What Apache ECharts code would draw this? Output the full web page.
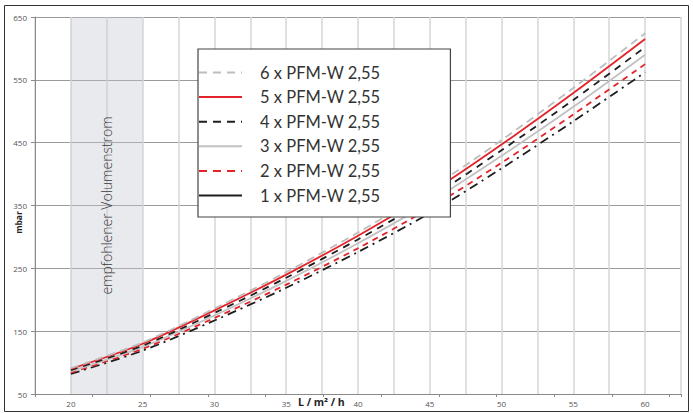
<!DOCTYPE html>
<html>
<head>
<meta charset="utf-8">
<script src="https://cdn.jsdelivr.net/npm/echarts@6/dist/echarts.min.js"></script>
<style>html,body{margin:0;padding:0;background:#fff}#c{width:693px;height:413px}</style>
</head>
<body>
<div id="c"></div>
<script>
const xValues = [20, 25, 30, 35, 40, 45, 50, 55, 60];
const seriesNames = ['6 x PFM-W 2,55', '5 x PFM-W 2,55', '4 x PFM-W 2,55', '3 x PFM-W 2,55', '2 x PFM-W 2,55', '1 x PFM-W 2,55'];
const pfm6 = [91, 132, 186, 244, 307, 376, 454, 537, 624];
const pfm5 = [90, 130, 183, 240, 302, 370, 447, 529, 615];
const pfm4 = [88, 127, 179, 235, 296, 362, 438, 518, 602];
const pfm3 = [86, 125, 175, 230, 290, 355, 429, 507, 590];
const pfm2 = [84, 122, 171, 224, 282, 346, 418, 495, 575];
const pfm1 = [82, 119, 167, 219, 276, 338, 409, 484, 562];
const yTicks = [50, 150, 250, 350, 450, 550, 650];
const xTickLabels = [20, 25, 30, 35, 40, 45, 50, 55, 60];
const bandRange = [20, 25];
const bandText = 'empfohlener Volumenstrom';
const yName = 'mbar';
const xName = 'L / m² / h';

const values = [pfm6, pfm5, pfm4, pfm3, pfm2, pfm1];
const styles = [
  {color: '#bdbdbd', type: [8, 5]},
  {color: '#e3242b', type: 'solid'},
  {color: '#1e1e1e', type: [7, 6]},
  {color: '#c2c2c2', type: 'solid'},
  {color: '#e3242b', type: [6, 5]},
  {color: '#1e1e1e', type: [9, 5, 2, 5]}
];
const legendStyles = [
  {color: '#bdbdbd', type: [8, 6]},
  {color: '#e3242b', type: 'solid'},
  {color: '#1e1e1e', type: [8, 6]},
  {color: '#c2c2c2', type: 'solid'},
  {color: '#e3242b', type: [8, 6]},
  {color: '#1e1e1e', type: 'solid'}
];

const series = values.map((vals, i) => ({
  name: seriesNames[i],
  type: 'line',
  smooth: 0.3,
  symbol: 'none',
  z: 3 + (5 - i),
  lineStyle: {width: 1.8, color: styles[i].color, type: styles[i].type},
  itemStyle: {color: styles[i].color},
  data: vals.map((v, j) => [xValues[j], v])
}));

series[5].markArea = {
  silent: true,
  itemStyle: {color: 'rgba(196,199,210,0.38)'},
  label: {
    show: true, position: 'inside', rotate: 90,
    fontFamily: 'Open Sans', fontSize: 14, color: '#3a3a3a', fontWeight: 300
  },
  data: [[{xAxis: bandRange[0], name: bandText}, {xAxis: bandRange[1]}]]
};

const chart = echarts.init(document.getElementById('c'), null, {renderer: 'svg'});
chart.setOption({
  animation: false,
  backgroundColor: '#fff',
  grid: {left: 35, right: 12, top: 17, bottom: 19, containLabel: false, outerBoundsMode: 'none'},
  legend: {
    orient: 'vertical',
    left: 198, top: 49,
    z: 20,
    backgroundColor: '#fff',
    borderColor: '#444', borderWidth: 1.2, borderRadius: 0,
    padding: [15, 70, 13, 0],
    itemWidth: 43, itemHeight: 14, itemGap: 7.6,
    itemStyle: {opacity: 0, borderWidth: 0},
    textStyle: {fontFamily: 'Lato', fontSize: 16.5, color: '#333', padding: [0, 0, 0, 13]},
    data: seriesNames.map((n, i) => ({
      name: n,
      itemStyle: {opacity: 0, borderWidth: 0},
      lineStyle: {width: 2, color: legendStyles[i].color, type: legendStyles[i].type}
    }))
  },
  xAxis: [{
    type: 'value', min: 17.5, max: 62.5, interval: 2.5,
    axisLine: {show: true, lineStyle: {color: '#8a8a8a', width: 1}},
    axisTick: {show: false},
    axisLabel: {
      fontFamily: 'Open Sans', fontSize: 8, color: '#555', margin: 5,
      formatter: v => (xTickLabels.indexOf(v) >= 0 ? String(v) : '')
    },
    splitLine: {show: true, lineStyle: {color: '#d6d6d6', width: 1.5}}
  }, {
    type: 'value', position: 'bottom', min: 0, max: 11.2, interval: 1,
    axisLine: {show: false}, axisLabel: {show: false}, splitLine: {show: false},
    axisTick: {show: true, length: 3, lineStyle: {color: '#8a8a8a'}}
  }],
  yAxis: {
    type: 'value', min: yTicks[0], max: yTicks[yTicks.length - 1], interval: 100,
    name: yName, nameLocation: 'middle', nameGap: 12, nameMoveOverlap: false,
    nameTextStyle: {fontFamily: 'Open Sans', fontWeight: 'bold', fontSize: 8.5, color: '#222',
                    padding: [0, 34, 0, 0]},
    axisLine: {show: true, lineStyle: {color: '#8a8a8a', width: 1}},
    axisTick: {show: true, length: 4, lineStyle: {color: '#8a8a8a'}},
    axisLabel: {fontFamily: 'Open Sans', fontSize: 8, color: '#555', margin: 8},
    splitLine: {show: true, lineStyle: {color: '#9a9a9a', width: 1}}
  },
  graphic: [
    {type: 'rect', silent: true, z: 0, shape: {x: 4.5, y: 5.5, width: 684, height: 406},
     style: {fill: 'none', stroke: '#333', lineWidth: 1}},
    {type: 'text', left: 298, top: 396, z: 10,
     style: {text: xName, fontFamily: 'Open Sans', fontWeight: 'bold', fontSize: 10.5, fill: '#222'}}
  ],
  series: series
});
</script>
</body>
</html>
